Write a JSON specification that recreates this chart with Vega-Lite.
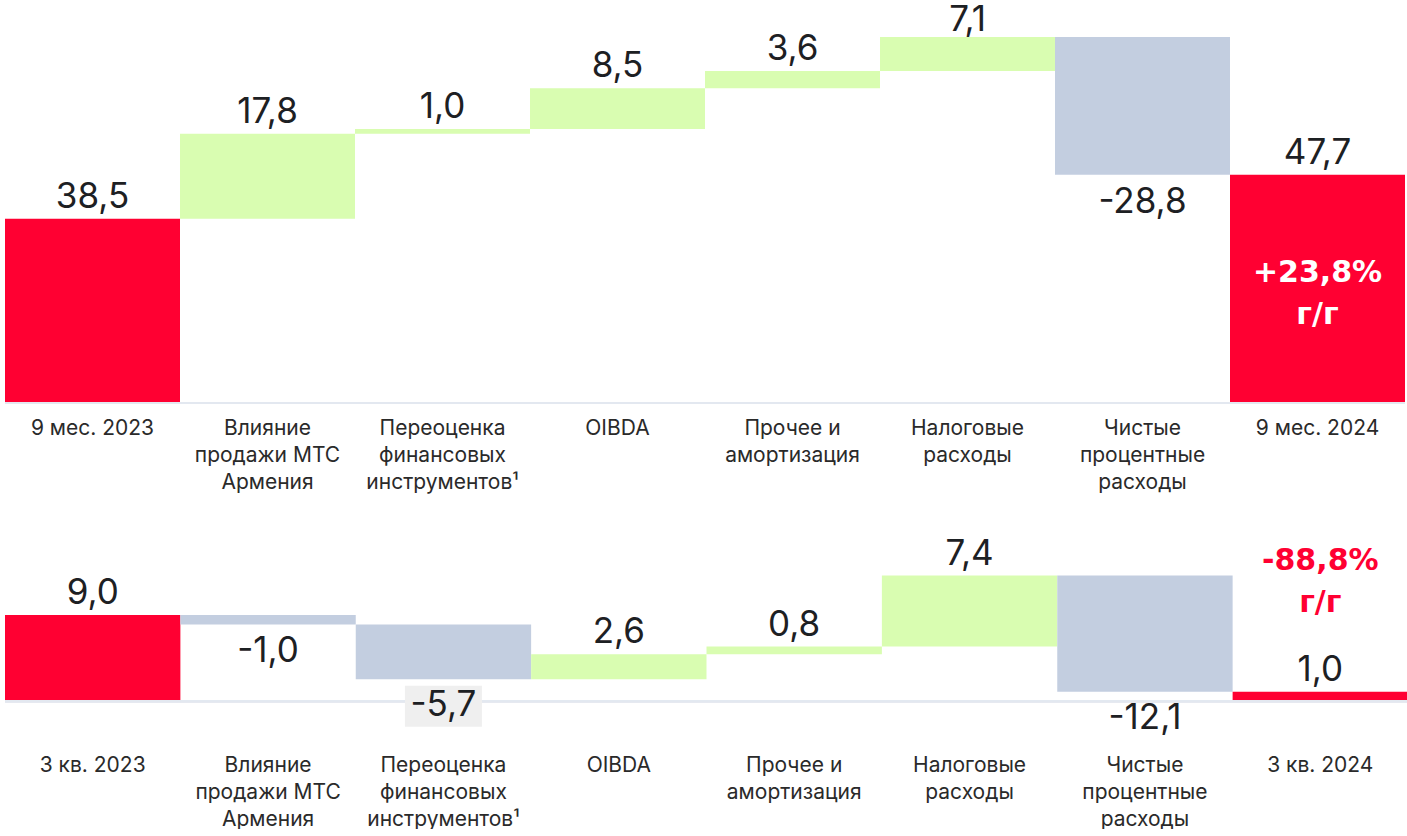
{
  "$schema": "https://vega.github.io/schema/vega-lite/v6.json",
  "padding": {"left": 4, "top": 0, "right": 0, "bottom": 0},
  "background": "#ffffff",
  "bounds": "flush",
  "spacing": 164,
  "datasets": {
    "nine": [
      {"cat": "9 мес. 2023", "start": 0, "end": 38.5, "amount": 38.5, "kind": "total"},
      {"cat": "Влияние|продажи МТС|Армения", "start": 38.5, "end": 56.3, "amount": 17.8, "kind": "up"},
      {"cat": "Переоценка|финансовых|инструментов¹", "start": 56.3, "end": 57.3, "amount": 1.0, "kind": "up"},
      {"cat": "OIBDA", "start": 57.3, "end": 65.8, "amount": 8.5, "kind": "up"},
      {"cat": "Прочее и|амортизация", "start": 65.8, "end": 69.4, "amount": 3.6, "kind": "up"},
      {"cat": "Налоговые|расходы", "start": 69.4, "end": 76.5, "amount": 7.1, "kind": "up"},
      {"cat": "Чистые|процентные|расходы", "start": 76.5, "end": 47.7, "amount": -28.8, "kind": "down"},
      {"cat": "9 мес. 2024", "start": 0, "end": 47.7, "amount": 47.7, "kind": "total", "note": "+23,8%\nг/г"}
    ],
    "q3": [
      {"cat": "3 кв. 2023", "start": 0, "end": 9.0, "amount": 9.0, "kind": "total"},
      {"cat": "Влияние|продажи МТС|Армения", "start": 9.0, "end": 8.0, "amount": -1.0, "kind": "down"},
      {"cat": "Переоценка|финансовых|инструментов¹", "start": 8.0, "end": 2.3, "amount": -5.7, "kind": "down"},
      {"cat": "OIBDA", "start": 2.3, "end": 4.9, "amount": 2.6, "kind": "up"},
      {"cat": "Прочее и|амортизация", "start": 4.9, "end": 5.7, "amount": 0.8, "kind": "up"},
      {"cat": "Налоговые|расходы", "start": 5.7, "end": 13.1, "amount": 7.4, "kind": "up"},
      {"cat": "Чистые|процентные|расходы", "start": 13.1, "end": 1.0, "amount": -12.1, "kind": "down"},
      {"cat": "3 кв. 2024", "start": 0, "end": 1.0, "amount": 1.0, "kind": "total", "note": "-88,8%\nг/г"}
    ]
  },
  "vconcat": [
    {
      "width": 1400,
      "height": 403,
      "data": {"name": "nine"},
      "encoding": {
        "x": {"field": "cat", "type": "nominal", "sort": null, "title": null,
              "scale": {"paddingInner": 0, "paddingOuter": 0},
              "axis": {"labelExpr": "split(datum.value, '|')", "labelAngle": 0, "domain": false, "ticks": false, "tickSize": 0, "labelPadding": 14, "labelBaseline": "top", "labelLineHeight": 27, "labelFont": "Inter", "labelFontSize": 21, "labelColor": "#2a2a2a", "labelLimit": 0}}
      },
      "layer": [
        {"mark": {"type": "bar", "stroke": null},
         "encoding": {
           "y": {"field": "start", "type": "quantitative", "axis": null, "scale": {"domain": [0, 84.24], "nice": false, "zero": false}},
           "y2": {"field": "end"},
           "color": {"field": "kind", "type": "nominal", "legend": null, "scale": {"domain": ["total", "up", "down"], "range": ["#FF0032", "#D9FDB1", "#C3CEE0"]}}
         }},
        {"mark": {"type": "rule", "color": "#E3E8F0", "strokeWidth": 2},
         "encoding": {"y": {"datum": 0}, "x": null}},
        {"transform": [{"filter": "datum.kind != 'down' && datum.end < 75"}],
         "mark": {"type": "text", "font": "Inter", "fontSize": 35, "color": "#1D2023", "baseline": "alphabetic", "dy": -11},
         "encoding": {"y": {"field": "end", "type": "quantitative"}, "text": {"field": "amount", "type": "quantitative", "format": ".1f"}}},
        {"transform": [{"filter": "datum.kind != 'down' && datum.end >= 75"}],
         "mark": {"type": "text", "font": "Inter", "fontSize": 35, "color": "#1D2023", "baseline": "alphabetic", "dy": -6},
         "encoding": {"y": {"field": "end", "type": "quantitative"}, "text": {"field": "amount", "type": "quantitative", "format": ".1f"}}},
        {"transform": [{"filter": "datum.kind == 'down'"}],
         "mark": {"type": "text", "font": "Inter", "fontSize": 35, "color": "#1D2023", "baseline": "alphabetic", "dy": 38},
         "encoding": {"y": {"field": "end", "type": "quantitative"}, "text": {"field": "amount", "type": "quantitative", "format": ".1f"}}},
        {"transform": [{"filter": "isValid(datum.note)"}],
         "mark": {"type": "text", "font": "DejaVu Sans", "fontWeight": "bold", "fontSize": 30, "color": "#FFFFFF", "baseline": "alphabetic", "dy": 107, "lineBreak": "\n", "lineHeight": 42},
         "encoding": {"y": {"field": "end", "type": "quantitative"}, "text": {"field": "note"}}}
      ]
    },
    {
      "width": 1403,
      "height": 173,
      "data": {"name": "q3"},
      "encoding": {
        "x": {"field": "cat", "type": "nominal", "sort": null, "title": null,
              "scale": {"paddingInner": 0, "paddingOuter": 0},
              "axis": {"labelExpr": "split(datum.value, '|')", "labelAngle": 0, "domain": false, "ticks": false, "tickSize": 0, "labelPadding": 14, "labelBaseline": "top", "labelLineHeight": 27, "labelFont": "Inter", "labelFontSize": 21, "labelColor": "#2a2a2a", "labelLimit": 0}}
      },
      "layer": [
        {"mark": {"type": "bar", "stroke": null},
         "encoding": {
           "y": {"field": "start", "type": "quantitative", "axis": null, "scale": {"domain": [-4.03, 13.99], "nice": false, "zero": false}},
           "y2": {"field": "end"},
           "color": {"field": "kind", "type": "nominal", "legend": null, "scale": {"domain": ["total", "up", "down"], "range": ["#FF0032", "#D9FDB1", "#C3CEE0"]}}
         }},
        {"mark": {"type": "rule", "color": "#E3E8F0", "strokeWidth": 2},
         "encoding": {"y": {"datum": 0}, "x": null}},
        {"transform": [{"filter": "datum.amount == -5.7"}],
         "mark": {"type": "bar", "width": 77, "color": "#EFEFEF"},
         "encoding": {"y": {"datum": 1.61}, "y2": {"datum": -2.66}}},
        {"transform": [{"filter": "datum.kind != 'down'"}],
         "mark": {"type": "text", "font": "Inter", "fontSize": 35, "color": "#1D2023", "baseline": "alphabetic", "dy": -11},
         "encoding": {"y": {"field": "end", "type": "quantitative"}, "text": {"field": "amount", "type": "quantitative", "format": ".1f"}}},
        {"transform": [{"filter": "datum.kind == 'down'"}],
         "mark": {"type": "text", "font": "Inter", "fontSize": 35, "color": "#1D2023", "baseline": "alphabetic", "dy": 37},
         "encoding": {"y": {"field": "end", "type": "quantitative"}, "text": {"field": "amount", "type": "quantitative", "format": ".1f"}}},
        {"transform": [{"filter": "isValid(datum.note)"}],
         "mark": {"type": "text", "font": "DejaVu Sans", "fontWeight": "bold", "fontSize": 30, "color": "#FF0032", "baseline": "alphabetic", "dy": -122, "lineBreak": "\n", "lineHeight": 42},
         "encoding": {"y": {"field": "end", "type": "quantitative"}, "text": {"field": "note"}}}
      ]
    }
  ],
  "config": {
    "view": {"stroke": null},
    "locale": {"number": {"decimal": ",", "thousands": " ", "grouping": [3], "currency": ["", ""], "minus": "-"}}
  }
}
